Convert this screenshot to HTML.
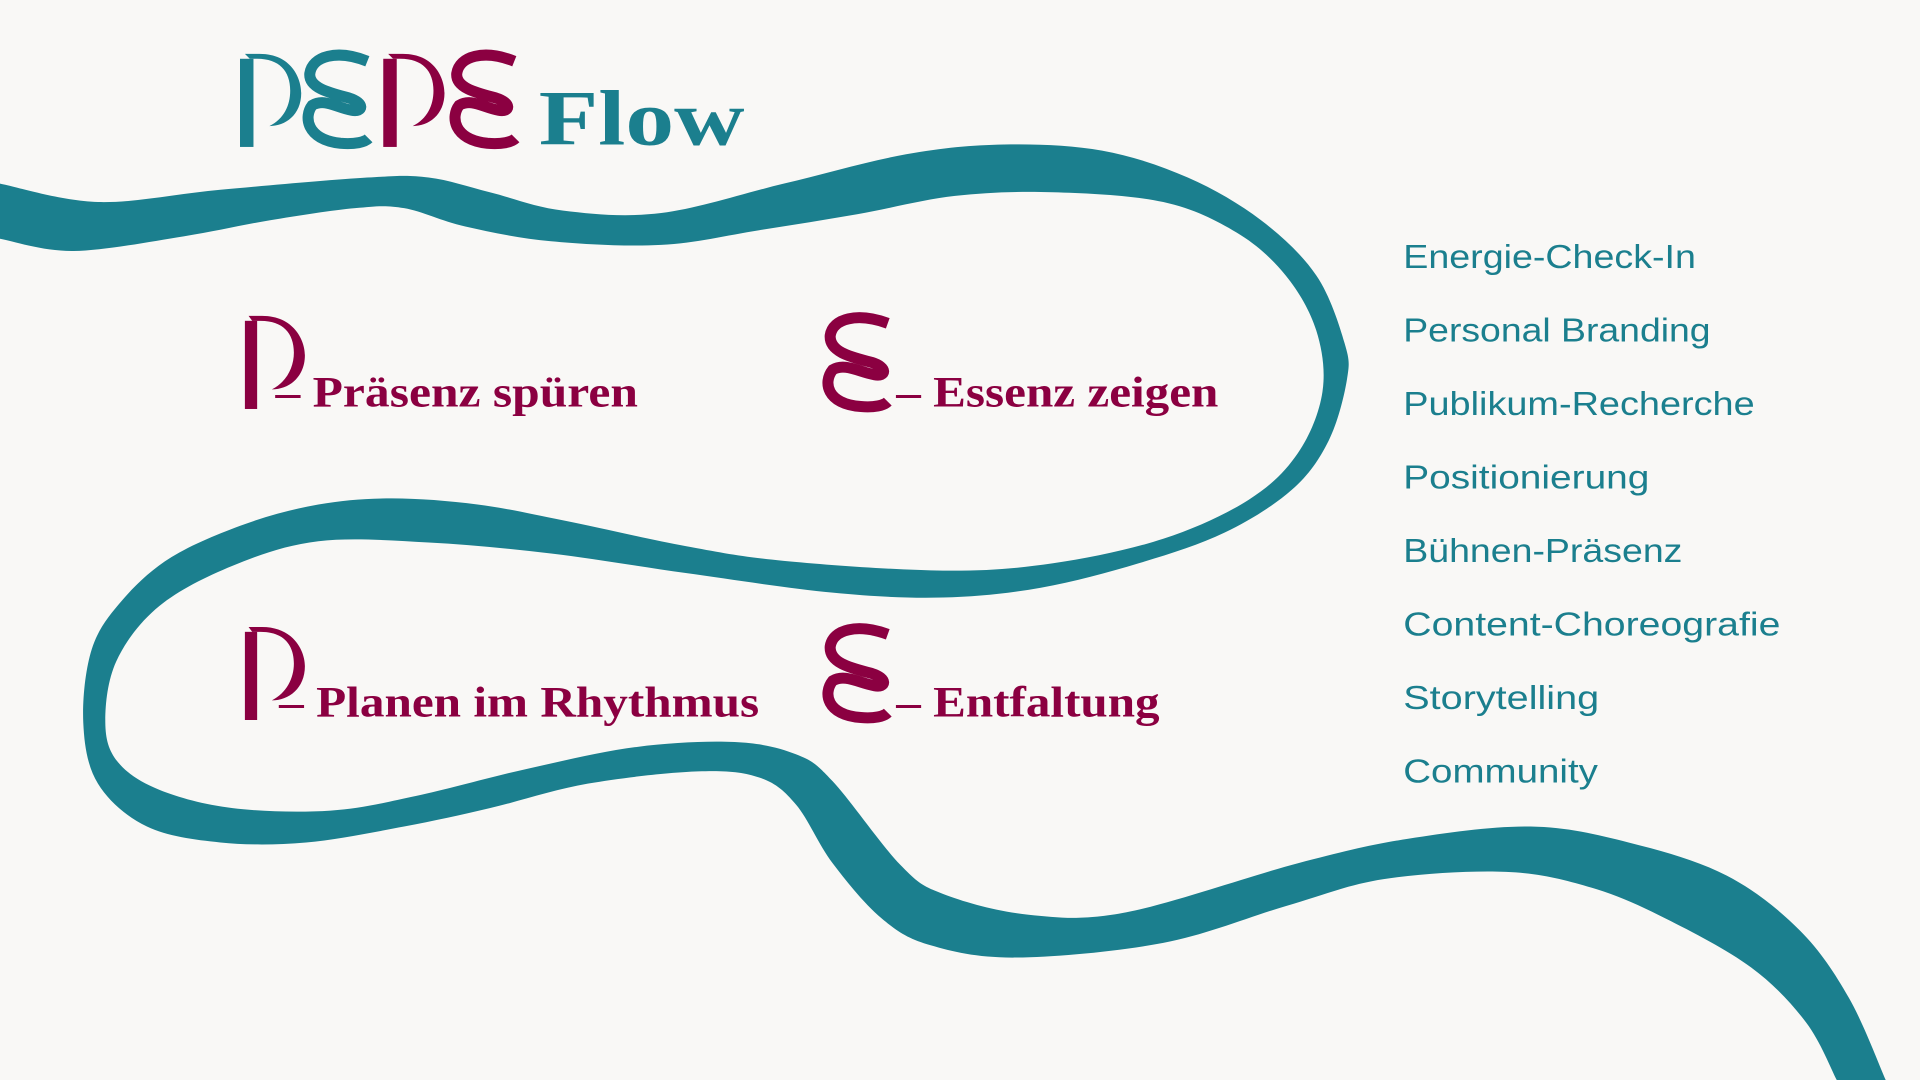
<!DOCTYPE html>
<html><head><meta charset="utf-8"><style>
html,body{margin:0;padding:0;background:#f9f8f6;}
svg{display:block;}
.lab{font-family:"Liberation Serif",serif;font-weight:bold;fill:#8b0041;font-size:35px;}
.lst{font-family:"Liberation Sans",sans-serif;fill:#1b7f8e;font-size:27px;}
</style></head><body>
<svg id="s" width="1920" height="1080" viewBox="0 0 1568 882" xmlns="http://www.w3.org/2000/svg">
<rect width="1568" height="882" fill="#f9f8f6"/>
<path id="rib" fill="#1b7f8e" d=""/>
<g fill="#1b7f8e">
<rect x="196" y="48" width="11" height="72"/>
<path d="M200,44 H212 C238,44 246,64 246,76 C246,94 233,103 220,103 C232,97 237,86 237,74 C237,58 228,48 210,48 H204 Z"/>
</g>
<path d="M300,50 C275,40 255,46 253,60 C252,72 270,76 285,80 C298,84 297,92 287,90 C275,88 265,80 255,86 C248,95 250,114 278,117 C290,118 298,116 301,113" fill="none" stroke="#1b7f8e" stroke-width="9"/>
<g fill="#8b0041">
<rect x="313" y="48" width="11" height="72"/>
<path d="M317,44 H329 C355,44 363,64 363,76 C363,94 350,103 337,103 C349,97 354,86 354,74 C354,58 345,48 327,48 H321 Z"/>
</g>
<path d="M420,50 C395,40 375,46 373,60 C372,72 390,76 405,80 C418,84 417,92 407,90 C395,88 385,80 375,86 C368,95 370,114 398,117 C410,118 418,116 421,113" fill="none" stroke="#8b0041" stroke-width="9"/>
<text x="440" y="118" font-family="Liberation Serif,serif" font-weight="bold" font-size="64" fill="#1b7f8e" textLength="168" lengthAdjust="spacingAndGlyphs">Flow</text>
<g fill="#8b0041">
<rect x="200" y="262" width="10" height="72"/>
<path d="M203,258 H214 C240,258 249,278 249,290 C249,308 236,318 222,318 C234,312 240,300 240,288 C240,272 231,262 213,262 H206 Z"/>
<rect x="200" y="516" width="10" height="72"/>
<path d="M203,512 H214 C240,512 249,532 249,544 C249,562 236,572 222,572 C234,566 240,554 240,542 C240,526 231,516 213,516 H206 Z"/>
</g>
<g fill="none" stroke="#8b0041" stroke-width="9">
<path d="M725,264 C700,255 680,260 678,274 C677,288 697,292 712,296 C725,300 724,308 714,306 C702,304 690,296 680,302 C672,312 675,330 703,332 C714,333 722,331 725,328"/>
<path d="M725,518 C700,509 680,514 678,528 C677,542 697,546 712,550 C725,554 724,562 714,560 C702,558 690,550 680,556 C672,566 675,584 703,586 C714,587 722,585 725,582"/>
</g>
<text class="lab" x="225" y="332" textLength="296" lengthAdjust="spacingAndGlyphs">– Präsenz spüren</text>
<text class="lab" x="732" y="332" textLength="263" lengthAdjust="spacingAndGlyphs">– Essenz zeigen</text>
<text class="lab" x="228" y="585" textLength="392" lengthAdjust="spacingAndGlyphs">– Planen im Rhythmus</text>
<text class="lab" x="732" y="585" textLength="215" lengthAdjust="spacingAndGlyphs">– Entfaltung</text>
<text class="lst" x="1146" y="219" textLength="239" lengthAdjust="spacingAndGlyphs">Energie-Check-In</text>
<text class="lst" x="1146" y="279" textLength="251" lengthAdjust="spacingAndGlyphs">Personal Branding</text>
<text class="lst" x="1146" y="339" textLength="287" lengthAdjust="spacingAndGlyphs">Publikum-Recherche</text>
<text class="lst" x="1146" y="399" textLength="201" lengthAdjust="spacingAndGlyphs">Positionierung</text>
<text class="lst" x="1146" y="459" textLength="228" lengthAdjust="spacingAndGlyphs">Bühnen-Präsenz</text>
<text class="lst" x="1146" y="519" textLength="308" lengthAdjust="spacingAndGlyphs">Content-Choreografie</text>
<text class="lst" x="1146" y="579" textLength="160" lengthAdjust="spacingAndGlyphs">Storytelling</text>
<text class="lst" x="1146" y="639" textLength="159" lengthAdjust="spacingAndGlyphs">Community</text>
</svg>
<script>
var A=[[0,150],[80,165],[180,155],[300,145],[350,145],[400,157],[460,172],[540,174],[640,150],[740,126],[820,118],[900,123],[970,145],[1030,180],[1075,225],[1098,280],[1100,310],[1085,360],[1055,400],[1000,435],[930,460],[850,480],[770,488],[680,484],[560,468],[450,452],[350,443],[260,442],[190,462],[130,495],[95,540],[86,590],[96,622],[130,645],[190,660],[270,662],[340,650],[430,628],[520,610],[600,606],[650,616],[680,638],[735,706],[770,730],[840,747],[920,745],[1060,705],[1150,685],[1250,675],[1330,688],[1410,715],[1470,760],[1510,815],[1540,882]];
var B=[[1500,882],[1475,835],[1430,790],[1360,750],[1300,725],[1230,712],[1130,718],[1050,740],[950,770],[830,782],[760,772],[720,750],[680,705],[650,657],[620,635],[570,630],[480,640],[400,660],[330,675],[250,688],[180,688],[120,675],[80,640],[68,590],[75,530],[100,490],[140,455],[200,428],[260,412],[320,407],[390,412],[460,425],[560,446],[640,458],[770,466],[860,460],[950,440],[1020,408],[1060,370],[1080,320],[1075,270],[1050,225],[1010,190],[950,165],[860,157],[780,160],[700,175],[620,188],[540,200],[450,197],[380,185],[330,170],[290,170],[220,180],[150,193],[60,205],[0,195]];
function cr(p,first){var d=(first?"M":"L")+p[0][0]+","+p[0][1];for(var i=0;i<p.length-1;i++){var p0=p[i-1]||p[i],p1=p[i],p2=p[i+1],p3=p[i+2]||p2;d+=" C"+(p1[0]+(p2[0]-p0[0])/6)+","+(p1[1]+(p2[1]-p0[1])/6)+" "+(p2[0]-(p3[0]-p1[0])/6)+","+(p2[1]-(p3[1]-p1[1])/6)+" "+p2[0]+","+p2[1];}return d;}
document.getElementById("rib").setAttribute("d",cr(A,true)+" L1500,882 "+cr(B,false)+" Z");
</script>
</body></html>
